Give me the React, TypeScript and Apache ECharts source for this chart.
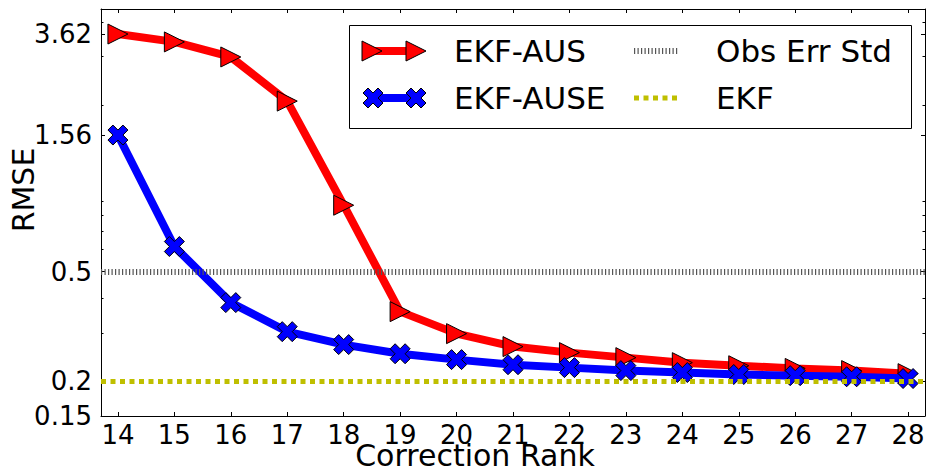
import React, { useEffect, useRef } from "react";
import * as echarts from "echarts";

// ---- data ----
const ranks = [14, 15, 16, 17, 18, 19, 20, 21, 22, 23, 24, 25, 26, 27, 28];
const ekfAus = [3.62, 3.39, 2.99, 2.07, 0.869, 0.358, 0.298, 0.2675, 0.2544, 0.244, 0.234, 0.228, 0.223, 0.219, 0.2135];
const ekfAuse = [1.56, 0.616, 0.386, 0.303, 0.272, 0.252, 0.24, 0.23, 0.2245, 0.219, 0.2155, 0.212, 0.21, 0.208, 0.205];
const obsErrStd = 0.5;
const ekfRmse = 0.2;
const yTickLabels = [0.15, 0.2, 0.5, 1.56, 3.62];
const yMinorTicks = [0.3, 0.4, 0.6, 0.7, 0.8, 0.9, 2, 3, 4];
const xTickLabels = ranks;

const FONT = "DejaVu Sans";
const X_MIN = 13.7;
const X_MAX = 28.3;
const Y_MIN = 0.15;
const Y_MAX = 4.46;

const X_PATH = "path://M6 0L12 6L18 0L24 6L18 12L24 18L18 24L12 18L6 24L0 18L6 12L0 6Z";

function xPoints(cx: number, cy: number, s: number) {
  const raw = [
    [6, 0], [12, 6], [18, 0], [24, 6], [18, 12], [24, 18],
    [18, 24], [12, 18], [6, 24], [0, 18], [6, 12], [0, 6],
  ];
  const k = s / 24;
  return raw.map(([x, y]) => [cx - s / 2 + x * k, cy - s / 2 + y * k]);
}

function triPoints(cx: number, cy: number, s: number) {
  const h = s / 2;
  return [[cx - h, cy - h], [cx + h, cy], [cx - h, cy + h]];
}

export default function App() {
  const ref = useRef<HTMLDivElement>(null);

  useEffect(() => {
    if (!ref.current) return;
    const chart = echarts.init(ref.current, undefined, { renderer: "svg" });

    const fmtY = (v: number) => {
      const m = yTickLabels.find((t) => Math.abs(t - v) / t < 1e-4);
      return m !== undefined ? String(m) : "";
    };

    const axisLine = { show: true, lineStyle: { color: "#000", width: 1 } };

    const xBase = {
      type: "value" as const,
      min: X_MIN,
      max: X_MAX,
      splitLine: { show: false },
      axisLine,
    };
    const yBase = {
      type: "log" as const,
      min: Y_MIN,
      max: Y_MAX,
      logBase: 10,
      splitLine: { show: false },
    };

    const legendRowY1 = 51;
    const legendRowY2 = 98;

    chart.setOption({
      animation: false,
      backgroundColor: "#fff",
      grid: { left: 101, right: 3, top: 9, bottom: 55, containLabel: false, outerBoundsMode: "none" },
      xAxis: [
        {
          ...xBase,
          position: "bottom",
          axisTick: { show: true, inside: true, length: 4, customValues: xTickLabels, lineStyle: { color: "#000" } },
          axisLabel: {
            customValues: xTickLabels,
            fontSize: 26,
            fontFamily: FONT,
            color: "#000",
            margin: 6,
          },
        },
        {
          ...xBase,
          position: "top",
          axisTick: { show: true, inside: true, length: 4, customValues: xTickLabels, lineStyle: { color: "#000" } },
          axisLabel: { show: false },
        },
      ],
      yAxis: [
        {
          ...yBase,
          position: "left",
          axisLine,
          axisTick: { show: true, inside: true, length: 4, customValues: yTickLabels, lineStyle: { color: "#000" } },
          axisLabel: {
            customValues: yTickLabels,
            formatter: fmtY,
            fontSize: 26,
            fontFamily: FONT,
            color: "#000",
            margin: 9,
          },
        },
        {
          ...yBase,
          position: "left",
          axisLine: { show: false },
          axisTick: { show: true, inside: true, length: 2.5, customValues: yMinorTicks, lineStyle: { color: "#000" } },
          axisLabel: { show: false },
        },
        {
          ...yBase,
          position: "right",
          axisLine,
          axisTick: { show: true, inside: true, length: 4, customValues: yTickLabels, lineStyle: { color: "#000" } },
          axisLabel: { show: false },
        },
        {
          ...yBase,
          position: "right",
          axisLine: { show: false },
          axisTick: { show: true, inside: true, length: 2.5, customValues: yMinorTicks, lineStyle: { color: "#000" } },
          axisLabel: { show: false },
        },
      ],
      series: [
        {
          name: "EKF-AUS",
          type: "line",
          xAxisIndex: 0,
          yAxisIndex: 0,
          data: ranks.map((r, i) => [r, ekfAus[i]]),
          symbol: "triangle",
          symbolSize: 20,
          symbolRotate: -90,
          lineStyle: { color: "#ff0000", width: 8 },
          itemStyle: { color: "#ff0000", borderColor: "#000", borderWidth: 1 },
          z: 3,
        },
        {
          name: "EKF-AUSE",
          type: "line",
          xAxisIndex: 0,
          yAxisIndex: 0,
          data: ranks.map((r, i) => [r, ekfAuse[i]]),
          symbol: X_PATH,
          symbolSize: 20,
          lineStyle: { color: "#0000ff", width: 8 },
          itemStyle: { color: "#0000ff", borderColor: "#000", borderWidth: 1 },
          z: 4,
        },
        {
          name: "Obs Err Std",
          type: "line",
          xAxisIndex: 0,
          yAxisIndex: 0,
          data: [],
          markLine: {
            silent: true,
            symbol: "none",
            label: { show: false },
            lineStyle: { color: "#555", width: 6, type: [1.2, 2.3], cap: "butt" },
            data: [{ yAxis: obsErrStd }],
          },
          z: 5,
        },
        {
          name: "EKF",
          type: "line",
          xAxisIndex: 0,
          yAxisIndex: 0,
          data: [],
          markLine: {
            silent: true,
            symbol: "none",
            label: { show: false },
            lineStyle: { color: "#bfbf00", width: 5, type: [5, 4.5], cap: "butt" },
            data: [{ yAxis: ekfRmse }],
          },
          z: 2,
        },
      ],
      graphic: [
        {
          type: "text",
          x: 475,
          y: 455,
          style: {
            text: "Correction Rank",
            fontSize: 30,
            fontFamily: FONT,
            fill: "#000",
            align: "center",
            verticalAlign: "middle",
            textAlign: "center",
            textVerticalAlign: "middle",
          },
        },
        {
          type: "text",
          x: 23,
          y: 190,
          rotation: Math.PI / 2,
          style: {
            text: "RMSE",
            fontSize: 30,
            fontFamily: FONT,
            fill: "#000",
            align: "center",
            verticalAlign: "middle",
            textAlign: "center",
            textVerticalAlign: "middle",
          },
        },
        {
          type: "group",
          z: 100,
          children: [
            {
              type: "rect",
              shape: { x: 349.5, y: 25.5, width: 562, height: 103 },
              style: { fill: "#fff", stroke: "#000", lineWidth: 1 },
            },
            {
              type: "line",
              shape: { x1: 372, y1: legendRowY1, x2: 416, y2: legendRowY1 },
              style: { stroke: "#ff0000", lineWidth: 8 },
            },
            {
              type: "polygon",
              shape: { points: triPoints(372, legendRowY1, 20) },
              style: { fill: "#ff0000", stroke: "#000", lineWidth: 1 },
            },
            {
              type: "polygon",
              shape: { points: triPoints(416, legendRowY1, 20) },
              style: { fill: "#ff0000", stroke: "#000", lineWidth: 1 },
            },
            {
              type: "line",
              shape: { x1: 373, y1: legendRowY2, x2: 416, y2: legendRowY2 },
              style: { stroke: "#0000ff", lineWidth: 8 },
            },
            {
              type: "polygon",
              shape: { points: xPoints(373, legendRowY2, 20) },
              style: { fill: "#0000ff", stroke: "#000", lineWidth: 1 },
            },
            {
              type: "polygon",
              shape: { points: xPoints(416, legendRowY2, 20) },
              style: { fill: "#0000ff", stroke: "#000", lineWidth: 1 },
            },
            {
              type: "line",
              shape: { x1: 634, y1: legendRowY1, x2: 678, y2: legendRowY1 },
              style: { stroke: "#555", lineWidth: 6, lineDash: [1.2, 2.3] },
            },
            {
              type: "line",
              shape: { x1: 634, y1: legendRowY2, x2: 678, y2: legendRowY2 },
              style: { stroke: "#bfbf00", lineWidth: 5, lineDash: [5, 4.5] },
            },
            ...[
              { t: "EKF-AUS", x: 454, y: legendRowY1 },
              { t: "EKF-AUSE", x: 454, y: legendRowY2 },
              { t: "Obs Err Std", x: 716, y: legendRowY1 },
              { t: "EKF", x: 716, y: legendRowY2 },
            ].map((d) => ({
              type: "text",
              x: d.x,
              y: d.y,
              style: {
                text: d.t,
                fontSize: 31,
                fontFamily: FONT,
                fill: "#000",
                align: "left",
                verticalAlign: "middle",
                textAlign: "left",
                textVerticalAlign: "middle",
              },
            })),
          ],
        },
      ],
    });

    return () => chart.dispose();
  }, []);

  return (
    <div
      ref={ref}
      style={{ position: "fixed", left: 0, top: 0, width: 928, height: 471, background: "#fff" }}
    />
  );
}
